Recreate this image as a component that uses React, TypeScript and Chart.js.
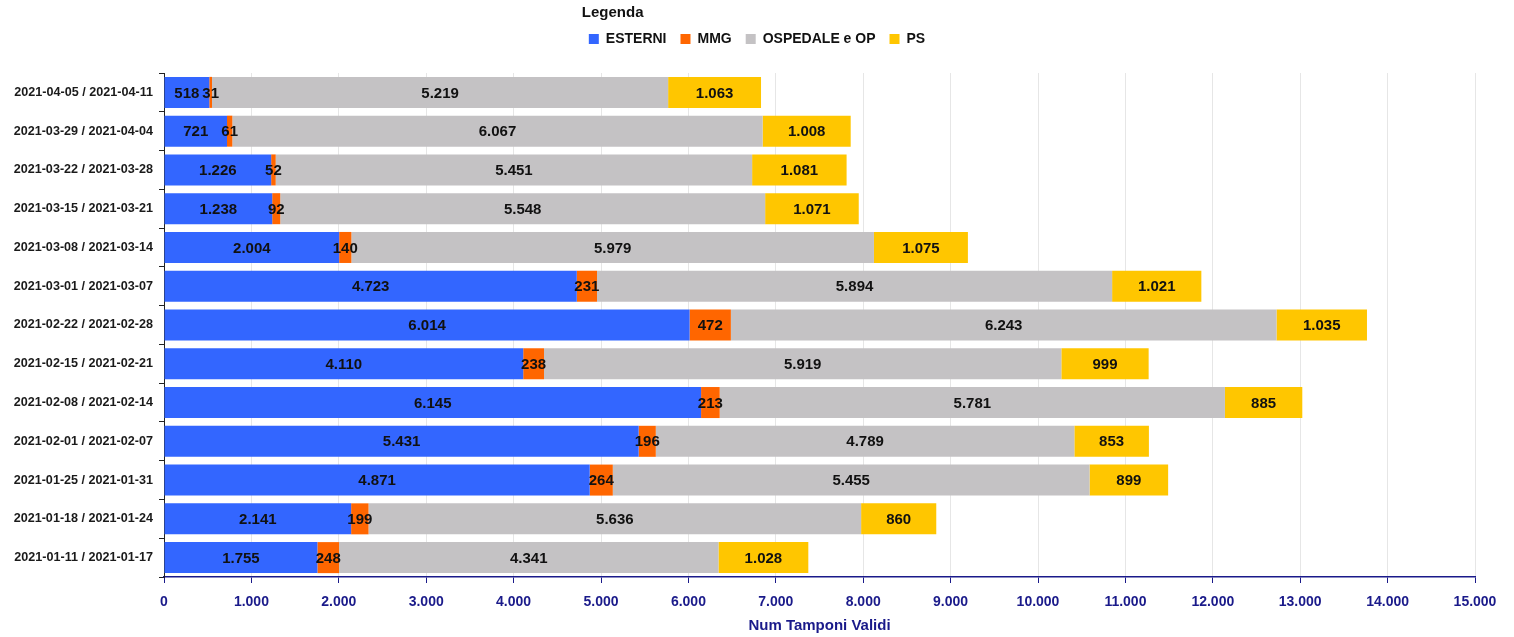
import React, { useEffect, useRef } from "react";
import { Chart, registerables } from "chart.js";

Chart.register(...registerables);

const categories = [
  "2021-04-05 / 2021-04-11",
  "2021-03-29 / 2021-04-04",
  "2021-03-22 / 2021-03-28",
  "2021-03-15 / 2021-03-21",
  "2021-03-08 / 2021-03-14",
  "2021-03-01 / 2021-03-07",
  "2021-02-22 / 2021-02-28",
  "2021-02-15 / 2021-02-21",
  "2021-02-08 / 2021-02-14",
  "2021-02-01 / 2021-02-07",
  "2021-01-25 / 2021-01-31",
  "2021-01-18 / 2021-01-24",
  "2021-01-11 / 2021-01-17",
];

const esterni = [518, 721, 1226, 1238, 2004, 4723, 6014, 4110, 6145, 5431, 4871, 2141, 1755];
const mmg = [31, 61, 52, 92, 140, 231, 472, 238, 213, 196, 264, 199, 248];
const ospedale = [5219, 6067, 5451, 5548, 5979, 5894, 6243, 5919, 5781, 4789, 5455, 5636, 4341];
const ps = [1063, 1008, 1081, 1071, 1075, 1021, 1035, 999, 885, 853, 899, 860, 1028];

const seriesNames = ["ESTERNI", "MMG", "OSPEDALE e OP", "PS"];
const seriesColors = ["#3366ff", "#ff6600", "#c4c2c4", "#ffc600"];

const FONT = "'Liberation Sans', Arial, sans-serif";
const NAVY = "#1a1a8a";

function fmt(n: number): string {
  return String(Math.round(n)).replace(/\B(?=(\d{3})+(?!\d))/g, ".");
}

const labelPlugin = {
  id: "segLabels",
  beforeLayout(chart: any) {
    const lg = chart.legend;
    if (lg && !lg._patchedFit) {
      const orig = lg.fit.bind(lg);
      lg.fit = function () {
        orig();
        this.height = 73;
      };
      lg._patchedFit = true;
    }
  },
  afterLayout(chart: any) {
    const lg = chart.legend;
    if (lg) {
      lg.left = 0;
      lg.right = chart.width;
      lg.width = chart.width;
    }
  },
  afterDatasetsDraw(chart: any) {
    const ctx = chart.ctx;
    ctx.save();
    ctx.font = `bold 15px ${FONT}`;
    ctx.fillStyle = "#111";
    ctx.textAlign = "center";
    ctx.textBaseline = "middle";
    chart.data.datasets.forEach((ds: any, di: number) => {
      const meta = chart.getDatasetMeta(di);
      meta.data.forEach((el: any, i: number) => {
        const v = ds.data[i];
        const x = (el.x + el.base) / 2;
        ctx.fillText(fmt(v), x, el.y + 1);
      });
    });
    ctx.restore();
  },
};

export default function App() {
  const ref = useRef<HTMLCanvasElement | null>(null);

  useEffect(() => {
    document.body.style.margin = "0";
    const canvas = ref.current!;
    const chart = new Chart(canvas, {
      type: "bar",
      data: {
        labels: categories,
        datasets: [esterni, mmg, ospedale, ps].map((d, i) => ({
          label: seriesNames[i],
          data: d,
          backgroundColor: seriesColors[i],
          borderWidth: 0,
          barPercentage: 0.8,
          categoryPercentage: 1,
        })),
      },
      options: {
        indexAxis: "y",
        responsive: false,
        animation: false,
        layout: { padding: { left: 0, right: 39, top: 0, bottom: 0 } },
        plugins: {
          tooltip: { enabled: false },
          legend: {
            display: true,
            position: "top",
            align: "center",
            title: {
              display: true,
              text: "Legenda",
              position: "start",
              color: "#111",
              font: { family: FONT, size: 15, weight: "bold", lineHeight: 1 },
              padding: { top: 5, bottom: -2 },
            },
            labels: {
              boxWidth: 10,
              boxHeight: 10,
              padding: 14,
              color: "#111",
              font: { family: FONT, size: 14, weight: "bold" },
            },
          },
        },
        scales: {
          x: {
            stacked: true,
            min: 0,
            max: 15000,
            afterFit: (s: any) => {
              s.height = 60;
            },
            ticks: {
              stepSize: 1000,
              color: NAVY,
              padding: 11,
              font: { family: FONT, size: 14, weight: "bold" },
              callback: (v: any) => fmt(Number(v)),
            },
            grid: {
              color: "#e6e6e6",
              tickColor: NAVY,
              tickLength: 6,
              lineWidth: 1,
            },
            border: { display: true, color: NAVY, width: 1.5 },
            title: {
              display: true,
              text: "Num Tamponi Validi",
              color: NAVY,
              font: { family: FONT, size: 15, weight: "bold" },
              padding: { top: 2, bottom: 2 },
            },
          },
          y: {
            stacked: true,
            afterFit: (s: any) => {
              s.width = 164;
            },
            ticks: {
              color: "#1a1a1a",
              padding: 6,
              font: { family: FONT, size: 12.6, weight: "bold" },
            },
            grid: {
              offset: true,
              drawOnChartArea: false,
              color: "#222",
              tickLength: 5,
            },
            border: { display: true, color: "#222" },
          },
        },
      },
      plugins: [labelPlugin],
    } as any);
    return () => chart.destroy();
  }, []);

  return (
    <div style={{ width: 1514, height: 637, background: "#fff" }}>
      <canvas ref={ref} width={1514} height={637} />
    </div>
  );
}
